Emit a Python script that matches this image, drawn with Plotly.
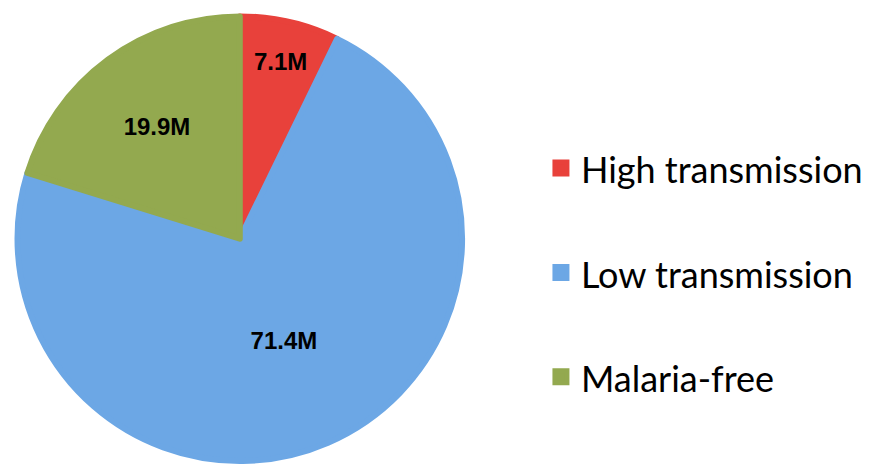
import plotly.graph_objects as go

# population (millions) by malaria transmission zone
labels = ["High transmission", "Low transmission", "Malaria-free"]
values = [7.1, 71.4, 19.9]
colors = ["#E8413B", "#6CA7E5", "#93A94F"]

# legend font sets the line spacing; the label itself is drawn a bit smaller
legend_labels = ["<span style='font-size:36px'>" + l + "</span><br> " for l in labels]

fig = go.Figure(go.Pie(
    labels=legend_labels,
    values=values,
    sort=False,
    direction="clockwise",
    rotation=0,
    marker=dict(colors=colors, line=dict(color=colors, width=6)),
    texttemplate="%{value:.1f}M",
    textposition="inside",
    insidetextorientation="horizontal",
    textfont=dict(family="Liberation Sans, Arial", size=24, color="black", weight="bold"),
    domain=dict(x=[0.009, 0.519], y=[0.028, 0.982]),
    hoverinfo="value",
))

fig.update_layout(
    width=878,
    height=466,
    margin=dict(l=0, r=0, t=0, b=0),
    paper_bgcolor="white",
    plot_bgcolor="white",
    showlegend=True,
    legend=dict(
        x=0.607, y=0.725, xanchor="left", yanchor="top",
        font=dict(family="Lato, Open Sans", size=39, color="black"),
        valign="top",
        bgcolor="rgba(0,0,0,0)",
    ),
)

fig.write_html("out.html")
